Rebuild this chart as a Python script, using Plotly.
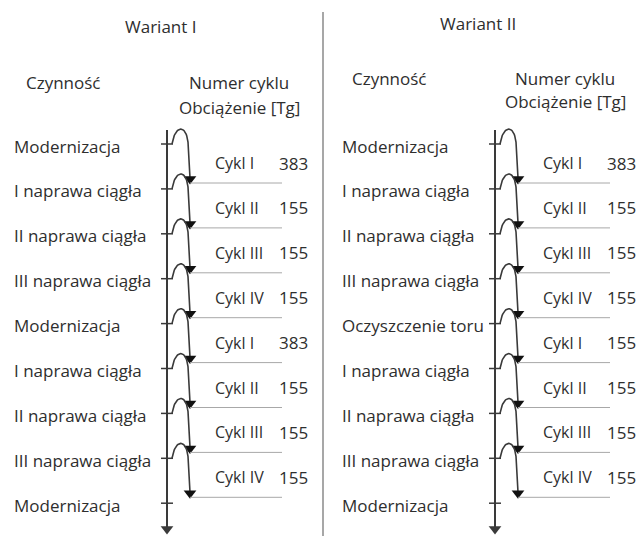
import numpy as np
import plotly.graph_objects as go

# ---------------- data ----------------
variant_titles = ["Wariant I", "Wariant II"]
header_action = "Czynność"
header_cycle = ["Numer cyklu", "Obciążenie [Tg]"]

actions_v1 = ["Modernizacja", "I naprawa ciągła", "II naprawa ciągła", "III naprawa ciągła",
              "Modernizacja", "I naprawa ciągła", "II naprawa ciągła", "III naprawa ciągła",
              "Modernizacja"]
actions_v2 = ["Modernizacja", "I naprawa ciągła", "II naprawa ciągła", "III naprawa ciągła",
              "Oczyszczenie toru", "I naprawa ciągła", "II naprawa ciągła", "III naprawa ciągła",
              "Modernizacja"]
cycles_v1 = ["Cykl I", "Cykl II", "Cykl III", "Cykl IV", "Cykl I", "Cykl II", "Cykl III", "Cykl IV"]
cycles_v2 = ["Cykl I", "Cykl II", "Cykl III", "Cykl IV", "Cykl I", "Cykl II", "Cykl III", "Cykl IV"]
loads_v1 = [383, 155, 155, 155, 383, 155, 155, 155]
loads_v2 = [383, 155, 155, 155, 155, 155, 155, 155]

# ---------------- layout constants ----------------
W, H = 638, 536
STEP = 44.9          # px per step
Y0 = 144             # px of first tick
FONT = "Open Sans"
TXT = "#2e2e2e"
LINE = "#3a3a3a"
FS = 17

def py(px):  # pixel offset -> step units
    return px / STEP

panels = [
    dict(axis_x=167, label_x=12, actions=actions_v1, cycles=cycles_v1, loads=loads_v1,
         title=variant_titles[0], title_x=160, title_y=26, act_x=24, hdr_x=239, hdr_y=(82, 107)),
    dict(axis_x=495, label_x=340, actions=actions_v2, cycles=cycles_v2, loads=loads_v2,
         title=variant_titles[1], title_x=478, title_y=23, act_x=350, hdr_x=565, hdr_y=(78, 101)),
]

fig = go.Figure()
ann = []

def bez(p0, p1, p2, p3, n=30):
    t = np.linspace(0, 1, n)[:, None]
    pts = ((1 - t) ** 3) * np.array(p0) + 3 * ((1 - t) ** 2) * t * np.array(p1) \
        + 3 * (1 - t) * t ** 2 * np.array(p2) + t ** 3 * np.array(p3)
    return pts[:, 0], pts[:, 1]

for p in panels:
    ax = p["axis_x"]
    # main axis
    fig.add_trace(go.Scatter(x=[ax, ax], y=[py(130 - Y0), py(528 - Y0)], mode="lines",
                             line=dict(color=LINE, width=2), hoverinfo="skip", showlegend=False))
    fig.add_trace(go.Scatter(x=[ax], y=[py(529 - Y0)], mode="markers",
                             marker=dict(symbol="triangle-down", size=11, color=LINE),
                             hoverinfo="skip", showlegend=False))
    # ticks and labels
    for i, a in enumerate(p["actions"]):
        fig.add_trace(go.Scatter(x=[ax - 6, ax + 6], y=[i, i], mode="lines",
                                 line=dict(color=LINE, width=1.5), hoverinfo="skip", showlegend=False))
        ann.append(dict(x=p["label_x"], y=i + py(2), text=a, xanchor="left", yanchor="middle",
                        showarrow=False, font=dict(family=FONT, size=FS, color=TXT)))
    # cycles
    for i, (c, v) in enumerate(zip(p["cycles"], p["loads"])):
        bx, by = bez((5, 0), (8, -19), (19, -20), (21, -2))
        xs = list(ax + bx) + [ax + 23]
        ys = list(i + by / STEP) + [i + py(34)]
        fig.add_trace(go.Scatter(x=xs, y=ys, mode="lines", line=dict(color=LINE, width=1.6),
                                 hoverinfo="skip", showlegend=False))
        fig.add_trace(go.Scatter(x=[ax + 23], y=[i + py(35)], mode="markers",
                                 marker=dict(symbol="triangle-down", size=11, color="#111"),
                                 hoverinfo="skip", showlegend=False))
        fig.add_trace(go.Scatter(x=[ax + 23, ax + 115], y=[i + py(39), i + py(39)], mode="lines",
                                 line=dict(color="#a8a8a8", width=1), hoverinfo="skip", showlegend=False))
        ann.append(dict(x=ax + 46, y=i + py(19), text=c, xanchor="left", yanchor="middle",
                        showarrow=False, font=dict(family=FONT, size=16, color=TXT)))
        ann.append(dict(x=ax + 110, y=i + py(19), text=str(v), xanchor="left", yanchor="middle",
                        showarrow=False, font=dict(family=FONT, size=FS, color=TXT)))
    # headers
    ann.append(dict(x=p["title_x"], y=py(p["title_y"] - Y0), text=p["title"], xanchor="center",
                    yanchor="middle", showarrow=False, font=dict(family=FONT, size=FS, color=TXT)))
    ann.append(dict(x=p["act_x"], y=py(p["hdr_y"][0] - Y0), text=header_action, xanchor="left",
                    yanchor="middle", showarrow=False, font=dict(family=FONT, size=FS, color=TXT)))
    for t, yy in zip(header_cycle, p["hdr_y"]):
        ann.append(dict(x=p["hdr_x"], y=py(yy - Y0), text=t, xanchor="center", yanchor="middle",
                        showarrow=False, font=dict(family=FONT, size=FS, color=TXT)))

# separator
fig.add_trace(go.Scatter(x=[323, 323], y=[py(12 - Y0), py(536 - Y0)], mode="lines",
                         line=dict(color="#8a8a8a", width=1.5), hoverinfo="skip", showlegend=False))

fig.update_layout(
    width=W, height=H, margin=dict(l=0, r=0, t=0, b=0),
    paper_bgcolor="white", plot_bgcolor="white",
    xaxis=dict(range=[0, W], visible=False, fixedrange=True),
    yaxis=dict(range=[py(H - Y0), py(-Y0)], visible=False, fixedrange=True),
    annotations=ann, showlegend=False,
)
fig.write_html("out.html", config={"displayModeBar": False},
               post_script="document.body.style.margin='0';document.body.style.overflow='hidden';")
